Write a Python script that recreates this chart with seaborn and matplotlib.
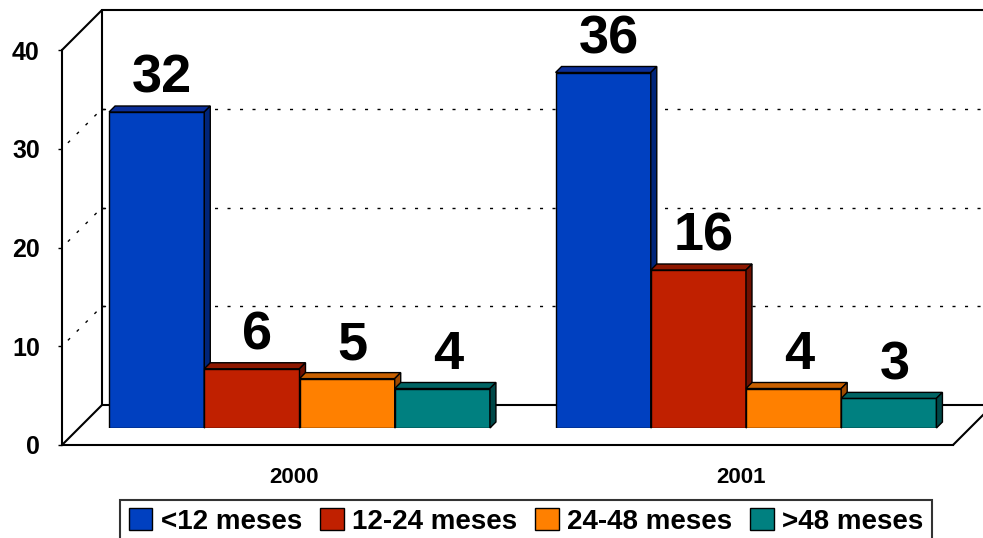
import numpy as np
import pandas as pd
import matplotlib
matplotlib.use("Agg")
import matplotlib.pyplot as plt
import matplotlib.transforms as mtransforms
from matplotlib.patches import Polygon
import seaborn as sns

# ---- data ----
years = ["2000", "2001"]
categories = ["<12 meses", "12-24 meses", "24-48 meses", ">48 meses"]
vals_2000 = [32, 6, 5, 4]
vals_2001 = [36, 16, 4, 3]
yticks = [0, 10, 20, 30, 40]

colors = ["#0040C0", "#C02000", "#FF8000", "#008080"]
top_colors = ["#0A2E98", "#8E1800", "#C86000", "#006464"]
side_colors = ["#00257A", "#701000", "#A04A00", "#004848"]

df = pd.DataFrame({
    "year": [y for y in years for _ in categories],
    "cat": categories * len(years),
    "value": vals_2000 + vals_2001,
})

sns.set_style("white")
plt.rcParams["font.family"] = ["Liberation Sans", "DejaVu Sans"]
plt.rcParams["font.weight"] = "bold"
plt.rcParams["text.color"] = "black"
plt.rcParams["xtick.color"] = "black"
plt.rcParams["ytick.color"] = "black"
plt.rcParams["xtick.labelcolor"] = "black"
plt.rcParams["ytick.labelcolor"] = "black"

W, H = 983, 538
fig = plt.figure(figsize=(W / 100, H / 100), dpi=100)

def fx(px):
    return px / W

def fy(py):
    return (H - py) / H

UNIT = 9.875           # px per value unit
FX0, FY0 = 62, 445     # front-left corner of floor
DEP = 40               # depth offset of back wall (px)
BX0, BY0 = FX0 + DEP, FY0 - DEP
FRONT_RIGHT = 953
RIGHT = 1000

# ---- background decorations (pixel coords) ----
bg = fig.add_axes([0, 0, 1, 1], zorder=0)
bg.set_xlim(0, W)
bg.set_ylim(H, 0)
bg.axis("off")
lw = 1.5
top_y = BY0 - 40 * UNIT
bg.plot([BX0, BX0], [BY0, top_y], color="black", lw=lw)
bg.plot([BX0, RIGHT], [top_y, top_y], color="black", lw=lw)
bg.plot([BX0, RIGHT], [BY0, BY0], color="black", lw=lw)
bg.plot([FX0, BX0], [FY0 - 40 * UNIT, top_y], color="black", lw=lw)
bg.plot([FX0, BX0], [FY0, BY0], color="black", lw=lw)
bg.plot([FRONT_RIGHT, FRONT_RIGHT + DEP], [FY0, BY0], color="black", lw=lw)
for v in yticks[1:-1]:
    yb = BY0 - v * UNIT
    yf = FY0 - v * UNIT
    bg.plot([BX0, RIGHT], [yb, yb], color="black", lw=1, ls=(0, (2.2, 6.8)))
    bg.plot([FX0, BX0], [yf, yb], color="black", lw=1, ls=(3, (2.2, 6.8)))
    bg.plot([BX0, BX0 + 3], [yb, yb], color="black", lw=1)

# ---- front frame axes with value ticks ----
axf = fig.add_axes([fx(FX0), fy(FY0), fx(FRONT_RIGHT) - fx(FX0), fy(FY0 - 40 * UNIT) - fy(FY0)], zorder=1)
axf.patch.set_alpha(0)
axf.set_ylim(0, 40)
axf.set_xlim(0, 1)
axf.set_yticks(yticks)
axf.set_yticklabels([str(t) for t in yticks], fontsize=18, fontweight="bold", color="black")
axf.set_xticks([])
for s in ["top", "right"]:
    axf.spines[s].set_visible(False)
for s in ["left", "bottom"]:
    axf.spines[s].set_linewidth(lw)
    axf.spines[s].set_color("black")
axf.tick_params(axis="y", length=3, width=1, pad=13, color="black", left=True)

# ---- main bar axes ----
ZERO_Y = 428
group_px = 446.5
c0 = 299.5
ax = fig.add_axes([fx(c0 - group_px / 2), fy(ZERO_Y), group_px * 2 / W,
                   fy(ZERO_Y - 40 * UNIT) - fy(ZERO_Y)], zorder=2)
ax.patch.set_alpha(0)
sns.barplot(data=df, x="year", y="value", hue="cat", hue_order=categories,
            palette=colors, width=0.853, edgecolor="black", linewidth=1,
            saturation=1, ax=ax, legend=True)
ax.set_xlim(-0.5, 1.5)
ax.set_ylim(0, 40)
ax.set_xlabel("")
ax.set_ylabel("")
ax.set_yticks([])
for s in ax.spines.values():
    s.set_visible(False)
ax.set_xticks(range(len(years)))
ax.set_xticklabels(years, fontsize=16, fontweight="bold", color="black")
ax.tick_params(axis="x", length=0, pad=28)
shift = mtransforms.ScaledTranslation(-5 / 100, 0, fig.dpi_scale_trans)
for lab in ax.get_xticklabels():
    lab.set_transform(lab.get_transform() + shift)

# 3D tops and sides
d_px = 6
dx = d_px / group_px
dy = d_px / UNIT
bars = []
for ci, cont in enumerate(ax.containers):
    for p in cont.patches:
        bars.append((p.get_x(), ci, p))
bars.sort(key=lambda t: t[0])
for i, (x0, ci, p) in enumerate(bars):
    z = 3 + i * 0.1
    p.set_zorder(z)
    x1 = x0 + p.get_width()
    h = p.get_height()
    top = Polygon([(x0, h), (x0 + dx, h + dy), (x1 + dx, h + dy), (x1, h)],
                  closed=True, facecolor=top_colors[ci], edgecolor="black",
                  lw=1, zorder=z + 0.05, clip_on=False)
    side = Polygon([(x1, 0), (x1, h), (x1 + dx, h + dy), (x1 + dx, dy)],
                   closed=True, facecolor=side_colors[ci], edgecolor="black",
                   lw=1, zorder=z + 0.05, clip_on=False)
    ax.add_patch(top)
    ax.add_patch(side)

for cont in ax.containers:
    anns = ax.bar_label(cont, padding=6, fontsize=39, fontweight="bold", color="black")
    for a in anns:
        a.xyann = (4, 6)

# legend
handles, labels = ax.get_legend_handles_labels()
ax.get_legend().remove()
leg = fig.legend(handles, labels, loc="upper center", ncol=4,
                 bbox_to_anchor=(fx(526), fy(500)), frameon=True,
                 fancybox=False, edgecolor="black",
                 prop={"weight": "bold", "size": 20},
                 handlelength=0.85, handleheight=0.8, handletextpad=0.3,
                 columnspacing=0.65, borderpad=0.3, borderaxespad=0)
leg.get_frame().set_linewidth(1.5)
for t in leg.get_texts():
    t.set_color("black")
for hnd in leg.legend_handles:
    hnd.set_edgecolor("black")
    hnd.set_linewidth(1)

fig.savefig("out.png", dpi=100)
